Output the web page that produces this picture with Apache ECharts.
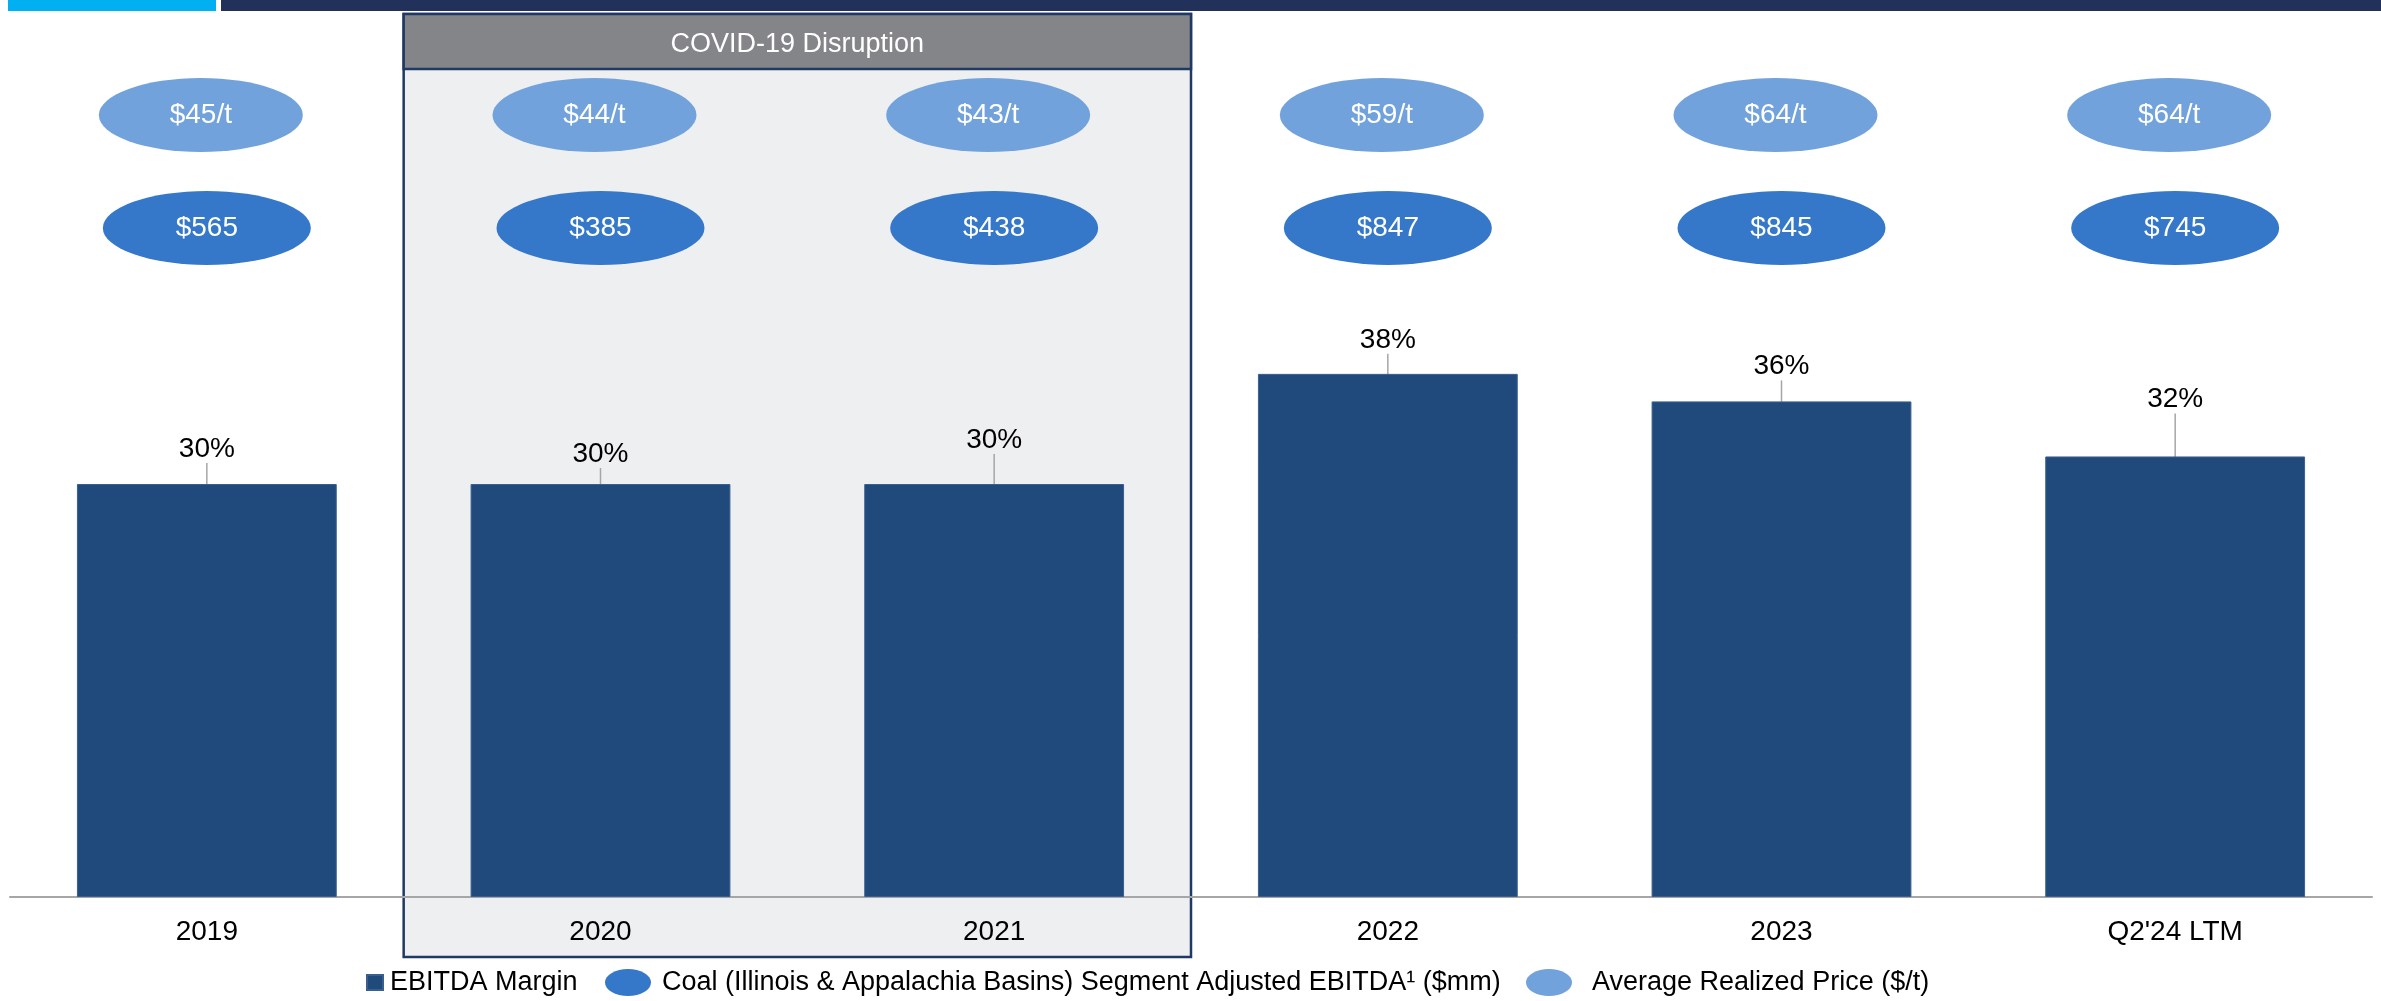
<!DOCTYPE html>
<html>
<head>
<meta charset="utf-8">
<script src="https://cdn.jsdelivr.net/npm/echarts@6/dist/echarts.min.js"></script>
<style>
  html, body { margin: 0; padding: 0; background: #fff; }
  #chart { width: 2381px; height: 1001px; }
</style>
</head>
<body>
<div id="chart"></div>
<script>
  var categories = ["2019", "2020", "2021", "2022", "2023", "Q2'24 LTM"];
  var ebitdaMargin = [30, 30, 30, 38, 36, 32];        // %
  var segmentEbitda = [565, 385, 438, 847, 845, 745];  // $mm
  var avgPrice = [45, 44, 43, 59, 64, 64];             // $/t
  var covidYears = ["2020", "2021"];

  var FONT = "'Liberation Sans', Arial, sans-serif";
  // rows of the ellipse badges, in units of the (hidden) y axis
  var PRICE_ROW = 56.8;
  var EBITDA_ROW = 48.6;
  // how far each % label is pulled up above its bar
  var labelLift = [16, 11, 25, 15, 16, 38];

  var NAME_BAR = "EBITDA Margin";
  var NAME_EBITDA = "Coal (Illinois & Appalachia Basins) Segment Adjusted EBITDA¹ ($mm)";
  var NAME_PRICE = "Average Realized Price ($/t)";
  var ELLIPSE = "path://M0,50 A50,50 0 1,1 100,50 A50,50 0 1,1 0,50 Z";
  var LEGEND_ELLIPSE = "path://M0,13.5 A23,13.5 0 1,1 46,13.5 A23,13.5 0 1,1 0,13.5 Z";

  var chart = echarts.init(document.getElementById("chart"));

  var legendText = { fontSize: 27, color: "#000", fontFamily: FONT };

  var option = {
    animation: false,
    backgroundColor: "#fff",
    textStyle: { fontFamily: FONT },
    grid: { left: 10, right: 9, top: 71, bottom: 104 },
    xAxis: {
      type: "category",
      data: categories,
      axisTick: { show: false },
      axisLine: { lineStyle: { color: "#a6a6a6", width: 2 } },
      axisLabel: { color: "#000", fontSize: 28, margin: 21, fontFamily: FONT },
    },
    yAxis: { type: "value", min: 0, max: 60, show: false },
    legend: [
      {
        data: [NAME_BAR],
        left: 361, top: 964,
        icon: "rect", itemWidth: 16, itemHeight: 15,
        selectedMode: false,
        textStyle: Object.assign({}, legendText, { padding: [0, 0, 0, 2] }),
      },
      {
        data: [NAME_EBITDA],
        left: 600, top: 964,
        icon: LEGEND_ELLIPSE, itemWidth: 46, itemHeight: 27,
        symbolKeepAspect: false,
        selectedMode: false,
        textStyle: Object.assign({}, legendText, { padding: [0, 0, 0, 6] }),
      },
      {
        data: [NAME_PRICE],
        left: 1521, top: 964,
        icon: LEGEND_ELLIPSE, itemWidth: 46, itemHeight: 27,
        symbolKeepAspect: false,
        selectedMode: false,
        textStyle: Object.assign({}, legendText, { padding: [0, 0, 0, 15] }),
      },
    ],
    series: [
      {
        name: NAME_BAR,
        type: "bar",
        barWidth: "66%",
        data: ebitdaMargin,
        itemStyle: { color: "#214a7c", borderColor: "#3a5f8f", borderWidth: 1 },
        label: {
          show: true,
          position: "top",
          distance: 5,
          color: "#000",
          fontSize: 28,
          fontFamily: FONT,
          formatter: function (p) { return ebitdaMargin[p.dataIndex] + "%"; },
        },
        labelLine: { show: true, lineStyle: { color: "#a6a6a6", width: 1.5 } },
        labelLayout: function (p) { return { dy: -labelLift[p.dataIndex] }; },
        z: 2,
      },
      {
        name: NAME_EBITDA,
        type: "scatter",
        symbol: ELLIPSE,
        symbolSize: [208, 74],
        itemStyle: { color: "#3578ca", opacity: 1 },
        data: categories.map(function (c, i) { return [c, EBITDA_ROW, segmentEbitda[i]]; }),
        label: {
          show: true,
          position: "inside",
          color: "#fff",
          fontSize: 28,
          fontFamily: FONT,
          formatter: function (p) { return "$" + p.value[2]; },
        },
        z: 3,
      },
      {
        name: NAME_PRICE,
        type: "scatter",
        symbol: ELLIPSE,
        symbolSize: [204, 74],
        symbolOffset: [-6, 0],
        itemStyle: { color: "#72a2dc", opacity: 1 },
        data: categories.map(function (c, i) { return [c, PRICE_ROW, avgPrice[i]]; }),
        label: {
          show: true,
          position: "inside",
          color: "#fff",
          fontSize: 28,
          fontFamily: FONT,
          formatter: function (p) { return "$" + p.value[2] + "/t"; },
        },
        z: 3,
      },
    ],
  };

  chart.setOption(option);

  // COVID box spans the full category bands of 2020 and 2021
  var x0 = chart.convertToPixel({ xAxisIndex: 0 }, covidYears[0]);
  var x1 = chart.convertToPixel({ xAxisIndex: 0 }, covidYears[1]);
  var band = x1 - x0;
  var boxLeft = x0 - band / 2;
  var boxRight = x1 + band / 2;
  var boxTop = 14, headerBottom = 69, boxBottom = 957;

  chart.setOption({
    graphic: [
      { type: "rect", left: 8, top: 0, shape: { width: 208, height: 11 }, style: { fill: "#00b0f0" } },
      { type: "rect", left: 221, top: 0, shape: { width: 2160, height: 11 }, style: { fill: "#22315a" } },
      {
        type: "rect", z: -10,
        shape: { x: boxLeft, y: boxTop, width: boxRight - boxLeft, height: boxBottom - boxTop },
        style: { fill: "#eeeff1", stroke: "#1f3864", lineWidth: 2.5 },
      },
      {
        type: "rect", z: -9,
        shape: { x: boxLeft, y: boxTop, width: boxRight - boxLeft, height: headerBottom - boxTop },
        style: { fill: "#848589", stroke: "#1f3864", lineWidth: 2.5 },
      },
      {
        type: "text", z: -8,
        x: (boxLeft + boxRight) / 2, y: 45,
        style: {
          text: "COVID-19 Disruption", fill: "#fff", font: "27px " + FONT,
          align: "center", verticalAlign: "middle",
        },
      },
    ],
  });
</script>
</body>
</html>
